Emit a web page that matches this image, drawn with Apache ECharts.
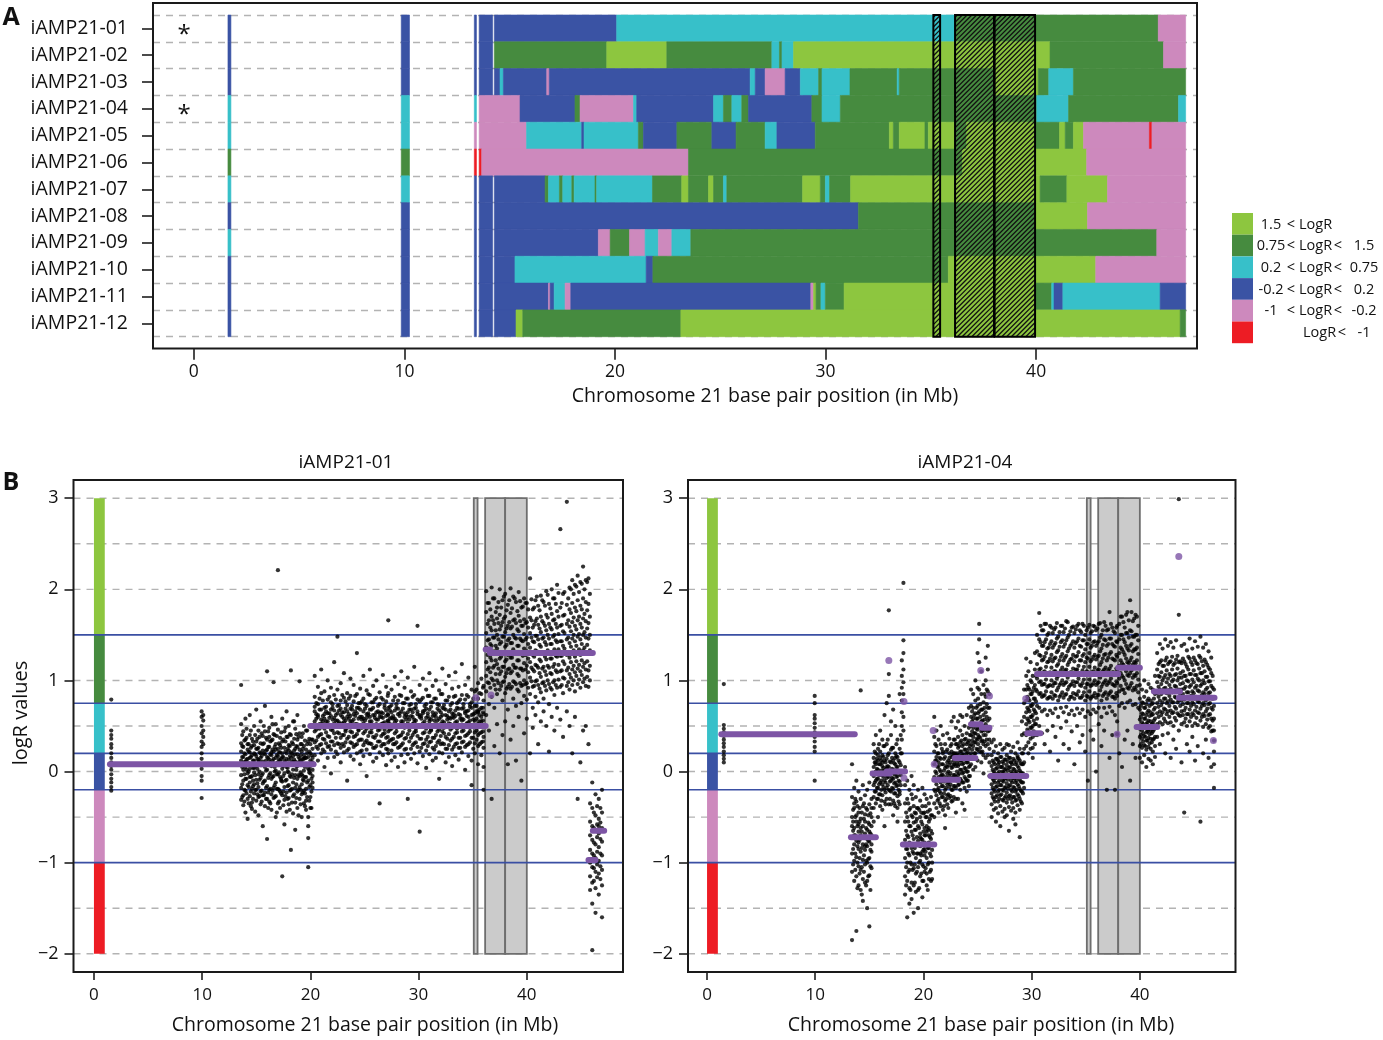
<!DOCTYPE html>
<html>
<head>
<meta charset="utf-8">
<title>iAMP21 - chromosome 21 copy number</title>
<script src="https://cdn.jsdelivr.net/npm/echarts@6.0.0/dist/echarts.min.js"></script>
<style>
  html, body { margin: 0; padding: 0; background: #fff; }
  #chart { width: 1383px; height: 1040px; }
</style>
</head>
<body>
<div id="chart"></div>
<script>
// ---- colours of the logR classes (light green, dark green, cyan, blue, pink, red)
var FONT = 'Open Sans';
var classColors = ['#8dc63f', '#468b3f', '#37c0c9', '#3a53a4', '#cd89bd', '#ed1c24'];
var purple = '#7d55a5';

// ---- panel A : segments per sample  [start Mb, end Mb, class]
var rowNames = ['iAMP21-01', 'iAMP21-02', 'iAMP21-03', 'iAMP21-04', 'iAMP21-05', 'iAMP21-06',
  'iAMP21-07', 'iAMP21-08', 'iAMP21-09', 'iAMP21-10', 'iAMP21-11', 'iAMP21-12'];
var seg01 = [[1.62,1.76,3],[9.85,10.24,3],[13.32,13.42,3],[13.55,14.19,3],[14.27,20.08,3],[20.08,36.15,2],[36.15,45.8,1],[45.8,47.1,4]];
var seg02 = [[1.62,1.76,3],[9.85,10.24,3],[13.32,13.42,3],[13.55,14.19,3],[14.27,19.61,1],[19.61,22.46,0],[22.46,27.45,1],[27.45,27.81,2],[27.81,27.93,1],[27.93,28.48,2],[28.48,40.66,0],[40.66,46.05,1],[46.05,47.1,4]];
var seg03 = [[1.62,1.76,3],[9.85,10.24,3],[13.32,13.42,3],[13.55,14.19,3],[14.27,14.54,3],[14.54,14.7,2],[14.7,16.76,3],[16.76,16.88,4],[16.88,26.42,3],[26.42,26.66,2],[26.66,27.13,3],[27.13,28.08,4],[28.08,28.8,3],[28.8,29.67,2],[29.67,29.83,1],[29.83,31.16,2],[31.16,33.4,1],[33.4,33.5,2],[33.5,38.0,1],[38.0,40.1,0],[40.1,40.6,1],[40.6,41.77,2],[41.77,47.1,1]];
var seg04 = [[1.62,1.76,2],[9.85,10.24,2],[13.32,13.42,2],[13.55,15.49,4],[15.49,18.1,3],[18.1,18.34,1],[18.34,20.88,4],[20.88,21.03,2],[21.03,24.68,3],[24.68,25.15,2],[25.15,25.55,1],[25.55,26.02,2],[26.02,26.34,1],[26.34,29.35,3],[29.35,29.83,1],[29.83,30.7,2],[30.7,40.03,1],[40.03,41.54,2],[41.54,46.76,1],[46.76,47.1,2]];
var seg05 = [[1.62,1.76,2],[9.85,10.24,2],[13.32,13.42,4],[13.55,15.8,4],[15.8,18.42,2],[18.42,18.53,3],[18.53,21.11,2],[21.11,21.35,1],[21.35,22.94,3],[22.94,24.6,1],[24.6,25.75,3],[25.75,27.13,1],[27.13,27.69,2],[27.69,29.51,3],[29.51,33.03,1],[33.03,33.22,0],[33.22,33.5,1],[33.5,34.72,0],[34.72,34.88,1],[34.88,36.15,0],[36.15,36.7,1],[36.7,39.95,0],[39.95,41.11,1],[41.11,41.38,0],[41.38,41.77,1],[41.77,42.25,0],[42.25,45.38,4],[45.38,45.5,5],[45.5,47.1,4]];
var seg06 = [[1.62,1.76,1],[9.85,10.24,1],[13.32,13.42,5],[13.55,13.67,5],[13.67,23.49,4],[23.49,36.5,1],[36.5,42.4,0],[42.4,47.1,4]];
var seg07 = [[1.62,1.76,2],[9.85,10.24,2],[13.32,13.42,3],[13.55,14.19,3],[14.27,16.68,3],[16.68,16.84,1],[16.84,17.36,2],[17.36,17.52,1],[17.52,17.95,2],[17.95,18.06,1],[18.06,19.05,2],[19.05,19.13,1],[19.13,21.78,2],[21.78,23.17,1],[23.17,23.49,0],[23.49,24.44,1],[24.44,24.68,0],[24.68,25.15,1],[25.15,25.31,2],[25.31,28.91,1],[28.91,29.75,0],[29.75,29.99,1],[29.99,30.19,2],[30.19,31.19,1],[31.19,40.19,0],[40.19,41.46,1],[41.46,43.39,0],[43.39,47.1,4]];
var seg08 = [[1.62,1.76,3],[9.85,10.24,3],[13.32,13.42,3],[13.55,14.19,3],[14.27,31.56,3],[31.56,39.95,1],[39.95,42.44,0],[42.44,47.1,4]];
var seg09 = [[1.62,1.76,2],[9.85,10.24,3],[13.32,13.42,3],[13.55,14.19,3],[14.27,19.21,3],[19.21,19.77,4],[19.77,20.69,1],[20.69,21.43,4],[21.43,22.06,2],[22.06,22.7,4],[22.7,23.6,2],[23.6,45.73,1],[45.73,47.1,4]];
var seg10 = [[1.62,1.76,3],[9.85,10.24,3],[13.32,13.42,3],[13.55,14.19,3],[14.27,15.25,3],[15.25,21.48,2],[21.48,21.8,3],[21.8,35.83,1],[35.83,42.83,0],[42.83,47.1,4]];
var seg11 = [[1.62,1.76,3],[9.85,10.24,3],[13.32,13.42,3],[13.55,14.19,3],[14.27,16.84,3],[16.84,16.92,4],[16.92,17.11,3],[17.11,17.63,2],[17.63,17.9,4],[17.9,29.3,3],[29.3,29.43,4],[29.43,29.55,0],[29.55,29.78,1],[29.78,29.99,2],[29.99,30.88,1],[30.88,39.95,0],[39.95,40.74,1],[40.74,40.85,2],[40.85,41.27,3],[41.27,45.89,2],[45.89,47.1,3]];
var seg12 = [[1.62,1.76,3],[9.85,10.24,3],[13.32,13.42,3],[13.55,14.19,3],[14.27,15.3,3],[15.3,15.62,0],[15.62,23.13,1],[23.13,46.84,0],[46.84,47.1,1]];
var rowSegs = [seg01, seg02, seg03, seg04, seg05, seg06, seg07, seg08, seg09, seg10, seg11, seg12];
var starredRows = [0, 3];

// hatched regions [start Mb, end Mb]
var hatchBoxes = [[35.12, 35.44], [36.15, 38.0], [38.03, 39.95]];

// ---- panel B : class thresholds, grey regions
var thresholds = [1.5, 0.75, 0.2, -0.2, -1];
var dashLevels = [-2, -1.5, -0.5, 0, 0.5, 1, 2, 2.5, 3];
var classBands = [[1.5, 3, 0], [0.75, 1.5, 1], [0.2, 0.75, 2], [-0.2, 0.2, 3], [-1, -0.2, 4], [-2, -1, 5]];
var greyBoxes = [[35.1, 35.45], [36.15, 38.0], [38.0, 40.0]];

// ---- iAMP21-01 probes: [position Mb, [logR values]]
var p01Left = [[1.6,[.79,.45,.4,.36,.3,.26,.2,.15,.1,.06,.02,-.03,-.08,-.12,-.17,-.21]],
  [9.95,[.66,.6,.5,.42,.33,.27,.2,.14,.08,.03,-.05,-.1,-.29]],[10.1,[.62,.56,.45,.38,.3]]];
var p01Cen = [[13.6,[.95,.52,.31,.12,-.04,-.18,-.31,.22]],[13.8,[.44,.27,.09,-.1,-.26,.16,-.37,.02]],
  [14.0,[.58,.35,.19,.05,-.08,-.21,-.45,.11]],[14.2,[.3,.14,-.02,-.15,-.3,.24,.07,-.52]],
  [14.4,[.62,.4,.21,.03,-.12,-.27,.15,-.06]],[14.6,[.36,.18,.08,-.05,-.19,-.34,.28,-.41]],
  [14.8,[.5,.29,.12,-.01,-.14,-.24,.2,.04]],[15.0,[.68,.33,.17,.06,-.09,-.2,-.32,.25]],
  [15.2,[.45,.26,.1,-.03,-.17,-.28,.13,-.48]],[15.4,[.55,.31,.2,.07,-.07,-.22,-.36,.15]],
  [15.6,[.39,.23,.11,-.02,-.13,-.26,.3,-.6]],[15.8,[.72,.44,.19,.05,-.1,-.23,.09,-.38]],
  [16.0,[1.1,.35,.16,.02,-.16,-.3,.24,-.74]],[16.2,[.48,.27,.13,-.04,-.2,-.33,.07,.38]],
  [16.4,[.6,.34,.18,.06,-.08,-.25,-.42,.21]],[16.6,[.98,.41,.22,.09,-.05,-.18,-.29,.14]],
  [16.8,[.52,.3,.15,.01,-.12,-.27,-.5,.24]],[17.0,[2.21,.46,.25,.1,-.03,-.19,-.35,.17]],
  [17.2,[.37,.21,.08,-.06,-.22,-.4,.29,.12]],[17.4,[.58,.33,.16,.03,-.11,-.26,-1.15,.2]],
  [17.6,[.44,.26,.12,-.02,-.17,-.31,-.58,.07]],[17.8,[.66,.38,.2,.05,-.09,-.23,-.44,.14]],
  [18.0,[.5,.29,.13,-.01,-.15,-.29,.23,-.36]],[18.2,[1.11,.4,.21,.08,-.06,-.2,-.86,.15]],
  [18.4,[.55,.3,.17,.02,-.12,-.27,-.46,.1]],[18.6,[.47,.25,.11,-.04,-.18,-.34,-.64,.19]],
  [18.8,[.62,.35,.19,.06,-.08,-.22,-.4,.27]],[19.0,[.99,.42,.24,.09,-.05,-.17,-.3,.14]],
  [19.2,[.38,.22,.1,-.03,-.14,-.25,.3,-.5]],[19.4,[.5,.28,.14,.01,-.1,-.21,-.35,.18]],
  [19.6,[.45,.24,.08,-.06,-.19,-.32,.15,-.42]],[19.8,[.33,.16,.03,-.1,-.5,-.6,-.73,-1.05]],
  [20.0,[.3,.12,-.02,-.15,-.28,.06,.2,-.4]],[20.2,[.25,.1,-.05,-.18,.02,-.12,.35,.15]]];
var p01Cen2 = [[13.7,[.28,.05,-.14,.4,-.28,.16]],[13.9,[.2,-.03,-.2,.34,.1,-.33]],[14.1,[.37,.13,-.08,-.24,.02,.47]],
  [14.3,[.22,0,-.17,.3,-.35,.09]],[14.5,[.45,.16,-.06,-.22,.26,-.38]],[14.7,[.12,-.1,-.3,.33,.04,-.16]],
  [14.9,[.4,.19,-.04,-.2,.08,-.44]],[15.1,[.25,.03,-.13,.36,-.25,.14]],[15.3,[.38,.11,-.09,-.27,.21,0]],
  [15.5,[.17,-.04,-.21,.42,-.33,.07]],[15.7,[.31,.09,-.11,-.26,.2,.5]],[15.9,[.23,.01,-.18,.37,-.3,.12]],
  [16.1,[.44,.15,-.07,-.23,.27,-.4]],[16.3,[.19,-.02,-.19,.33,-.35,.1]],[16.5,[.35,.12,-.06,-.21,.24,.52]],
  [16.7,[.27,.05,-.15,.4,-.28,0]],[16.9,[.39,.18,-.03,-.19,.09,-.45]],[17.1,[.21,-.01,-.2,.31,-.33,.13]],
  [17.3,[.43,.14,-.08,-.24,.26,-.1]],[17.5,[.16,-.05,-.22,.35,-.37,.06]],[17.7,[.33,.1,-.1,-.27,.22,.48]],
  [17.9,[.25,.04,-.16,.38,-.3,0]],[18.1,[.41,.17,-.05,-.21,.28,-.42]],[18.3,[.2,-.03,-.19,.32,-.34,.11]],
  [18.5,[.36,.13,-.07,-.25,.23,.55]],[18.7,[.28,.06,-.14,.41,-.29,.02]],[18.9,[.38,.16,-.04,-.2,.1,-.48]],
  [19.1,[.18,-.01,-.2,.3,-.36,.12]],[19.3,[.42,.14,-.09,-.23,.25,-.05]],[19.5,[.15,-.06,-.24,.34,-.38,.05]],
  [19.7,[.3,.08,-.12,-.28,.2,.45]],[19.9,[.22,.02,-.17,.36,-.32,-.01]],[20.1,[.35,.1,-.08,-.22,.18,-.4]]];
var p01Arm = [[20.4,[1.05,.82,.66,.55,.44,.32,.18,.71]],[20.7,[.93,.74,.6,.49,.38,.25,.62,.12]],
  [21.0,[1.12,.86,.68,.52,.41,.3,.57,.2]],[21.3,[.88,.7,.58,.47,.35,.22,.63,.05]],
  [21.6,[1.0,.79,.64,.5,.39,.27,.15,.55]],[21.9,[.92,.76,.61,.46,.33,.68,.24,-.02]],
  [22.2,[1.2,.84,.67,.53,.42,.29,.59,.16]],[22.5,[1.48,.9,.72,.56,.43,.31,.19,.64]],
  [22.8,[.97,.78,.62,.5,.37,.26,.1,.69]],[23.1,[1.08,.81,.65,.54,.4,.28,.58,.21]],
  [23.4,[.86,.73,.6,.48,.36,.23,.66,-.1]],[23.7,[1.02,.83,.69,.55,.44,.32,.17,.61]],
  [24.0,[.95,.77,.63,.51,.38,.27,.57,.13]],[24.3,[1.3,.85,.7,.52,.41,.3,.2,.64]],
  [24.6,[.91,.75,.6,.49,.35,.22,.68,.08]],[24.9,[1.05,.8,.66,.53,.42,.29,.58,.17]],
  [25.2,[.89,.72,.59,.47,.34,.24,.63,-.05]],[25.5,[1.12,.84,.68,.55,.43,.31,.19,.6]],
  [25.8,[.94,.76,.62,.5,.38,.26,.7,.11]],[26.1,[1.0,.81,.65,.52,.4,.28,.57,.15]],
  [26.4,[.87,.74,.6,.46,.33,.21,-.35,.64]],[26.7,[1.06,.79,.64,.53,.41,.3,.18,.59]],
  [27.0,[.93,.77,.61,.49,.37,.25,.67,.07]],[27.2,[1.66,.86,.7,.55,.44,.32,.2,.62]],
  [27.5,[.9,.73,.59,.47,.35,.23,.65,.12]],[27.8,[1.04,.82,.67,.54,.42,.3,.16,.58]],
  [28.1,[.96,.78,.63,.5,.38,.26,.69,.05]],[28.4,[1.1,.83,.66,.52,.4,.29,.55,.18]],
  [28.7,[.92,.75,.6,.48,.36,.24,.64,.1]],[29.0,[1.03,.8,.65,.53,.41,-.3,.19,.6]],
  [29.3,[.88,.74,.61,.49,.37,.25,.68,.14]],[29.6,[1.15,.84,.69,.54,.43,.31,.2,.57]],
  [29.9,[1.6,.79,.63,.51,.39,.27,.66,.09]],[30.1,[.95,.77,.62,.5,.36,-.66,.22,.6]],
  [30.4,[1.02,.81,.66,.53,.42,.3,.17,.64]],[30.7,[.9,.74,.59,.47,.35,.23,.69,.04]],
  [31.0,[1.08,.83,.68,.55,.43,.32,.19,.58]],[31.3,[.94,.76,.61,.49,.37,.26,.65,.12]],
  [31.6,[1.0,.8,.64,.52,.4,.28,.15,.6]],[31.9,[.89,.73,.58,.46,.34,.21,.67,-.08]],
  [32.2,[1.13,.85,.7,.55,.44,.31,.2,.62]],[32.5,[.96,.78,.62,.5,.38,.25,.68,.1]],
  [32.8,[1.05,.82,.66,.53,.41,.29,.16,.59]],[33.1,[.91,.75,.6,.48,.36,.24,.64,.06]],
  [33.4,[1.09,.83,.67,.54,.42,.3,.18,.61]],[33.7,[.93,.77,.63,.5,.37,.26,.69,.13]],
  [34.0,[1.18,.84,.69,.56,.44,.32,.21,.58]],[34.3,[.95,.79,.64,.51,.39,.27,.66,.02]],
  [34.6,[1.03,.82,.67,.54,.42,.3,.17,.6]],[34.9,[.9,.76,.62,.49,.37,-.15,.7,.12]],
  [35.2,[1.15,.88,.72,.56,.43,.31,.2,.64]],[35.5,[.97,.8,.65,.52,.4,.28,.66,.08]],
  [35.8,[1.02,.85,.7,.55,.43,.32,.18,.6]],[36.0,[.94,.78,.63,.5,.38,.26,.05,-.2]]];
var p01Arm2 = [[20.55,[.75,.58,.46,.34,.63,.27]],[20.85,[.68,.52,.4,.29,.8,.47]],[21.15,[.78,.61,.49,.36,.55,.24]],
  [21.45,[.71,.55,.43,.31,.66,.5]],[21.75,[.82,.64,.51,.38,.59,.28]],[22.05,[.7,.57,.45,.33,.74,.48]],
  [22.35,[.79,.62,.5,.37,.56,.22]],[22.65,[.73,.54,.42,.3,.67,.52]],[22.95,[.84,.65,.53,.4,.6,.3]],
  [23.25,[.69,.56,.44,.32,.77,.46]],[23.55,[.8,.63,.5,.38,.58,.25]],[23.85,[.72,.55,.43,.31,.68,.49]],
  [24.15,[.83,.66,.52,.39,.61,.29]],[24.45,[.7,.58,.46,.34,.75,.45]],[24.75,[.77,.6,.48,.35,.57,.23]],
  [25.05,[.74,.56,.44,.32,.69,.51]],[25.35,[.85,.64,.51,.39,.62,.31]],[25.65,[.68,.55,.43,.3,.76,.47]],
  [25.95,[.79,.62,.5,.37,.59,.26]],[26.25,[.72,.57,.45,.33,.66,.5]],[26.55,[.81,.65,.52,.39,.6,.28]],
  [26.85,[.7,.54,.42,.3,.73,.46]],[27.15,[.83,.63,.5,.38,.56,.24]],[27.35,[.71,.58,.46,.34,.67,.52]],
  [27.65,[.78,.61,.49,.36,.58,.3]],[27.95,[.74,.56,.44,.32,.7,.48]],[28.25,[.84,.64,.51,.39,.61,.27]],
  [28.55,[.69,.55,.43,.31,.75,.49]],[28.85,[.8,.62,.5,.37,.57,.25]],[29.15,[.73,.57,.45,.33,.68,.5]],
  [29.45,[.82,.65,.52,.4,.6,.29]],[29.75,[.7,.56,.44,.32,.74,.47]],[30.25,[.79,.61,.49,.36,.58,.26]],
  [30.55,[.72,.55,.43,.31,.67,.51]],[30.85,[.83,.64,.51,.38,.61,.28]],[31.15,[.71,.57,.45,.33,.76,.46]],
  [31.45,[.8,.62,.5,.37,.56,.24]],[31.75,[.74,.56,.44,.32,.69,.5]],[32.05,[.85,.65,.52,.39,.6,.3]],
  [32.35,[.69,.54,.42,.3,.73,.48]],[32.65,[.78,.61,.49,.36,.57,.25]],[32.95,[.73,.58,.46,.34,.68,.52]],
  [33.25,[.82,.63,.5,.38,.59,.27]],[33.55,[.7,.55,.43,.31,.75,.47]],[33.85,[.79,.62,.5,.37,.58,.26]],
  [34.15,[.74,.57,.45,.33,.7,.5]],[34.45,[.84,.66,.53,.4,.61,.29]],[34.75,[.71,.56,.44,.32,.74,.48]],
  [35.05,[.8,.63,.5,.37,.57,.25]],[35.35,[.9,.72,.58,.45,.66,.35]],[35.65,[.86,.68,.55,.42,.62,.3]],
  [35.95,[.92,.7,.56,.44,.65,.33]]];
var p01Amp = [[36.25,[1.98,1.75,1.52,1.36,1.2,1.05,.88,.62]],[36.5,[1.85,1.66,1.45,1.3,1.14,.97,.74,.45]],
  [36.75,[2.02,1.7,1.55,1.38,1.22,1.02,.82,-.3]],[37.0,[1.9,1.62,1.47,1.32,1.16,.95,.7,.28]],
  [37.25,[1.8,1.68,1.5,1.35,1.18,1.0,.85,.52]],[37.5,[2.0,1.72,1.56,1.4,1.24,1.07,.9,.2]],
  [37.75,[1.88,1.64,1.48,1.31,1.15,.98,.78,.4]],[38.0,[1.95,1.7,1.53,1.37,1.21,1.04,.86,.55]],
  [38.25,[1.83,1.6,1.44,1.28,1.12,.93,.68,.08]],[38.5,[2.01,1.74,1.57,1.41,1.25,1.08,.91,.35]],
  [38.75,[1.92,1.66,1.5,1.34,1.17,.99,.8,.5]],[39.0,[1.86,1.63,1.46,1.3,1.14,.96,.72,.12]],
  [39.25,[1.97,1.71,1.54,1.38,1.22,1.05,.88,.6]],[39.5,[1.8,1.6,1.44,1.29,1.13,.94,.75,-.1]],
  [39.75,[1.9,1.67,1.51,1.35,1.19,1.0,.83,.42]],[40.0,[1.85,1.64,1.47,1.32,1.16,.97,.79,.58]],
  [40.3,[2.12,1.69,1.52,1.36,1.2,1.03,.85,.2]],[40.55,[1.78,1.58,1.43,1.28,1.12,.93,.7,.48]],
  [40.8,[1.88,1.65,1.49,1.33,1.17,.99,.82,.62]],[41.05,[1.82,1.61,1.45,1.3,1.14,.95,.76,.3]],
  [41.3,[1.93,1.7,1.53,1.37,1.21,1.04,.87,.55]],[41.55,[1.86,1.63,1.47,1.31,1.15,.98,.8,.66]],
  [41.8,[1.98,1.72,1.55,1.39,1.23,1.06,.89,.5]],[42.05,[1.84,1.62,1.46,1.3,1.14,.96,.74,.22]],
  [42.3,[2.0,1.73,1.56,1.4,1.24,1.07,.9,.6]],[42.55,[1.9,1.67,1.5,1.34,1.18,1.0,.84,.45]],
  [42.8,[2.05,1.76,1.58,1.42,1.26,1.09,.92,.7]],[43.1,[2.66,1.8,1.6,1.43,1.27,1.1,.93,.57]],
  [43.35,[1.95,1.71,1.54,1.38,1.21,1.03,.86,.38]],[43.7,[2.96,1.83,1.62,1.45,1.28,1.11,.94,.66]],
  [43.95,[2.02,1.78,1.59,1.41,1.25,1.07,.9,.5]],[44.2,[2.1,1.85,1.64,1.46,1.3,1.12,.95,.2]],
  [44.45,[2.05,1.8,1.6,1.43,1.26,1.09,.88,.6]],[44.7,[2.15,1.88,1.66,1.48,1.31,1.13,.96,-.3]],
  [44.95,[2.08,1.82,1.62,1.45,1.28,1.1,.92,.1]],[45.2,[2.25,1.9,1.68,1.5,1.33,1.15,.98,.45]],
  [45.45,[2.1,1.86,1.65,1.47,1.3,1.12,.94,.5]],[45.7,[2.12,1.84,1.63,1.46,1.29,1.11,.93,.3]]];
var p01Amp2 = [[36.38,[1.62,1.44,1.28,1.12,.98,1.85]],[36.63,[1.58,1.4,1.25,1.09,.92,1.78]],[36.88,[1.66,1.47,1.3,1.14,1.0,1.9]],
  [37.13,[1.55,1.38,1.22,1.07,.9,1.75]],[37.38,[1.63,1.45,1.29,1.13,.97,1.86]],[37.63,[1.6,1.42,1.26,1.1,.94,1.8]],
  [37.88,[1.68,1.48,1.31,1.15,.99,1.92]],[38.13,[1.57,1.39,1.23,1.08,.91,1.77]],[38.38,[1.64,1.46,1.3,1.13,.96,1.88]],
  [38.63,[1.59,1.41,1.25,1.1,.93,1.79]],[38.88,[1.67,1.47,1.31,1.14,.98,1.9]],[39.13,[1.56,1.38,1.22,1.07,.9,1.76]],
  [39.38,[1.65,1.46,1.29,1.13,.97,1.87]],[39.63,[1.6,1.43,1.27,1.11,.95,1.81]],[39.88,[1.63,1.45,1.28,1.12,.96,1.85]],
  [40.13,[1.58,1.4,1.24,1.09,.92,1.78]],[40.43,[1.66,1.47,1.3,1.14,.99,1.89]],[40.68,[1.61,1.42,1.26,1.1,.94,1.8]],
  [40.93,[1.68,1.49,1.32,1.16,1.0,1.92]],[41.18,[1.57,1.39,1.23,1.08,.91,1.77]],[41.43,[1.65,1.46,1.29,1.13,.97,1.88]],
  [41.68,[1.6,1.42,1.26,1.1,.94,1.82]],[41.93,[1.69,1.5,1.33,1.16,1.0,1.94]],[42.18,[1.58,1.4,1.24,1.08,.92,1.79]],
  [42.43,[1.66,1.48,1.31,1.15,.98,1.9]],[42.68,[1.62,1.44,1.27,1.11,.95,1.84]],[42.93,[1.7,1.51,1.34,1.17,1.01,1.96]],
  [43.23,[1.61,1.43,1.27,1.11,.95,1.85]],[43.48,[1.72,1.52,1.35,1.18,1.02,1.97]],[43.83,[1.66,1.47,1.3,1.14,.98,1.9]],
  [44.08,[1.74,1.54,1.37,1.2,1.03,2.0]],[44.33,[1.69,1.5,1.33,1.16,1.0,1.95]],[44.58,[1.76,1.56,1.38,1.21,1.05,2.03]],
  [44.83,[1.7,1.51,1.34,1.17,1.01,1.97]],[45.08,[1.78,1.58,1.4,1.22,1.06,2.06]],[45.33,[1.73,1.53,1.36,1.19,1.02,2.0]],
  [45.58,[1.77,1.57,1.39,1.21,1.04,2.08]],[45.83,[1.7,1.5,1.33,1.16,1.0,1.95]]];
var p01Tel = [[45.85,[-.35,-.55,-.7,-.86,-1.0,-1.15,-1.3]],[46.05,[-1.96,-.12,-.4,-.6,-.75,-.9,-1.05,-1.22,-1.45]],
  [46.2,[-.45,-.62,-.78,-.92,-1.06,-1.2]],
  [46.35,[-.25,-.48,-.65,-.8,-.95,-1.1,-1.28,-1.55]],[46.5,[-.38,-.58,-.72,-.88,-1.02,-1.16]],
  [46.65,[-.3,-.52,-.68,-.83,-.98,-1.12,-1.35,-.6]],[46.8,[-.4,-.56,-.74,-.9,-1.04,-1.18]],
  [46.95,[-.45,-.62,-.77,-.92,-1.08,-1.25,-1.6,-.2]]];
// segment means [start, end, logR] and single-probe means [pos, logR]
var seg01Means = [[1.48,20.3,.08],[20.0,36.2,.5],[36.2,36.6,1.34],[36.6,46.1,1.3],[45.7,46.35,-.97],[46.1,47.15,-.65]];
var dot01Means = [[35.3,.81],[36.7,.84]];

// ---- iAMP21-04 probes
var p04Left = [[1.55,[.96,.51,.47,.43,.39,.35,.31,.27,.22,.18,.14,.1]],
  [9.95,[.83,.75,.62,.58,.53,.48,.43,.38,.33,.27,.22,-.1]]];
var p04Prox = [[13.4,[.08,-.28,-.5,-.72,-.9,-1.1,-1.85,-.6]],[13.6,[-.18,-.4,-.62,-.8,-.98,-1.2,-.35,-.7]],
  [13.8,[-.1,-.33,-.55,-.76,-.94,-1.15,-1.75,-.48]],[14.0,[-.22,-.45,-.66,-.85,-1.04,-1.25,-.58,-.78]],
  [14.2,[.89,-.3,-.52,-.7,-.88,-1.08,-1.3,-.62]],[14.4,[-.15,-.38,-.6,-.8,-.97,-1.18,-1.42,-.72]],
  [14.6,[-.26,-.47,-.68,-.86,-1.02,-1.22,-.55,-.82]],[14.8,[-.2,-.42,-.64,-.82,-1.0,-1.2,-1.5,-.74]],
  [15.0,[-.12,-.36,-.58,-.77,-.95,-1.14,-1.7,-.66]],[15.2,[-.3,-.5,-.7,-.88,-1.06,-.6,-.8,-.4]],
  [15.4,[.3,.15,.05,-.05,-.15,-.28,-.4,-.55]],[15.6,[.4,.2,.1,0,-.1,-.22,-.35,.08]],
  [15.8,[.25,.12,.02,-.08,-.18,-.3,-.5,.18]],[16.0,[.45,.22,.08,-.03,-.12,-.25,-.38,.15]],
  [16.2,[.35,.18,.06,-.04,-.14,-.26,-.42,.1]],[16.4,[.62,.28,.12,.01,-.1,-.2,-.33,-.6]],
  [16.6,[.75,.3,.14,.03,-.07,-.18,-.3,.05]],[16.8,[1.77,1.07,.83,.2,.05,-.06,-.2,-.36]],
  [17.0,[.55,.24,.1,0,-.1,-.22,-.36,.4]],[17.2,[.68,.26,.12,.02,-.08,-.19,-.32,-.48]],
  [17.4,[.5,.2,.08,-.02,-.12,-.24,-.38,.15]],[17.6,[.35,.16,.05,-.05,-.15,-.27,-.4,-.55]],
  [17.8,[.85,.25,.1,-.01,-.11,-.22,-.36,-.25]],[18.0,[1.22,1.05,.92,.78,.65,.5,.35,.2]],
  [18.15,[2.07,1.44,1.3,1.12,.98,.85,.6,.45]],
  [18.3,[.05,-.15,-.35,-.55,-.75,-.95,-1.15,-1.35]],[18.5,[-.1,-.3,-.5,-.7,-.85,-1.0,-1.2,-1.6]],
  [18.7,[-.2,-.42,-.6,-.78,-.92,-1.08,-1.28,-1.45]],[18.9,[-.05,-.25,-.48,-.66,-.84,-1.02,-1.22,-1.4]],
  [19.1,[-.15,-.38,-.56,-.74,-.9,-1.06,-1.25,-1.55]],[19.3,[-.28,-.46,-.64,-.8,-.95,-1.12,-1.32,-.55]],
  [19.5,[-.2,-.4,-.6,-.76,-.9,-1.05,-1.3,-1.5]],[19.7,[-.32,-.5,-.68,-.82,-.98,-1.15,-.72,-.9]],
  [19.9,[-.18,-.38,-.58,-.75,-.88,-1.02,-1.2,-1.38]],[20.1,[-.25,-.45,-.62,-.78,-.92,-1.1,-.7,-.85]],
  [20.3,[-.3,-.5,-.66,-.8,-.95,-1.12,-1.25,-.6]],[20.5,[-.35,-.55,-.7,-.84,-1.0,-1.18,-.62,-.78]],
  [20.7,[-.28,-.48,-.65,-.8,-.93,-1.08,-.74,-1.2]]];
var p04Prox2 = [[13.5,[-.42,-.65,-.85,-1.02,-.55]],[13.7,[-.5,-.7,-.9,-1.08,-.3]],[13.9,[-.38,-.6,-.82,-1.0,-1.28]],
  [14.1,[-.55,-.75,-.95,-1.12,-.4]],[14.3,[-.45,-.66,-.84,-1.05,-1.35]],[14.5,[-.52,-.72,-.92,-1.1,-.35]],
  [14.7,[-.4,-.62,-.8,-.98,-1.25]],[14.9,[-.56,-.76,-.96,-1.15,-.48]],[15.1,[-.46,-.68,-.86,-1.04,-1.3]],
  [15.5,[.1,-.02,-.12,-.22,.22]],[15.7,[.14,.03,-.08,-.18,-.3]],[15.9,[.08,-.04,-.14,-.25,.3]],
  [16.1,[.12,.01,-.1,-.2,-.32]],[16.3,[.16,.04,-.06,-.17,.28]],[16.5,[.1,-.01,-.12,-.23,-.36]],
  [16.7,[.18,.06,-.05,-.15,.35]],[16.9,[.11,0,-.11,-.21,-.3]],[17.1,[.15,.03,-.07,-.18,.26]],
  [17.3,[.09,-.03,-.13,-.24,-.35]],[17.5,[.17,.05,-.06,-.16,.3]],[17.7,[.12,0,-.1,-.2,-.33]],
  [17.9,[.2,.07,-.04,-.15,.4]],[18.4,[-.45,-.65,-.85,-1.05,-1.25]],[18.6,[-.55,-.72,-.9,-1.1,-.35]],
  [18.8,[-.4,-.6,-.8,-1.0,-1.3]],[19.0,[-.5,-.7,-.88,-1.08,-.3]],[19.2,[-.45,-.64,-.84,-1.02,-1.22]],
  [19.4,[-.52,-.72,-.9,-1.1,-.4]],[19.6,[-.42,-.62,-.8,-1.0,-1.28]],[19.8,[-.55,-.74,-.92,-1.12,-.45]],
  [20.0,[-.46,-.66,-.86,-1.04,-1.2]],[20.2,[-.5,-.7,-.88,-1.06,-.38]],[20.4,[-.44,-.64,-.84,-1.02,-1.3]],
  [20.6,[-.52,-.72,-.9,-1.1,-.42]],[20.8,[-.48,-.68,-.86,-1.0,-1.18]]];
var p04Mid = [[21.0,[.6,.38,.22,.08,-.06,-.2,-.35,-.5]],[21.2,[.45,.28,.12,-.02,-.14,-.26,-.4,.16]],
  [21.4,[.35,.2,.06,-.06,-.18,-.3,-.45,.1]],[21.6,[.5,.3,.14,0,-.12,-.24,-.38,-.05]],
  [21.8,[.4,.22,.08,-.04,-.16,-.28,-.42,.2]],[22.0,[.3,.16,.04,-.08,-.2,-.32,-.48,-.62]],
  [22.2,[.42,.24,.1,-.02,-.14,-.26,-.36,.05]],[22.4,[.36,.2,.07,-.05,-.17,-.29,.15,-.1]],
  [22.6,[.55,.3,.16,.04,-.08,-.2,-.33,.22]],[22.8,[.6,.35,.2,.08,-.04,-.16,-.28,.12]],
  [23.0,[.48,.3,.18,.06,-.06,-.18,-.3,-.45]],[23.2,[.55,.38,.26,.16,.06,-.04,-.15,-.3]],
  [23.4,[.45,.32,.22,.12,.02,-.08,-.2,.62]],[23.6,[.6,.4,.28,.18,.08,-.02,-.12,-.35]],
  [23.8,[.5,.35,.24,.14,.04,-.06,-.18,-.42]],[24.0,[.62,.42,.3,.2,.1,0,-.1,-.22]],
  [24.2,[.48,.34,.25,.15,.05,-.05,-.16,.7]],[24.4,[.9,.72,.6,.5,.4,.3,.2,.08]],
  [24.6,[.85,.7,.58,.48,.38,.28,.16,.02]],[24.8,[1.0,.78,.64,.52,.42,.32,.2,.05]],
  [25.0,[1.3,.92,.72,.58,.46,.35,.24,.12]],[25.15,[1.62,1.45,1.2,.9,.66,.5,.38,.22]],
  [25.35,[1.1,.85,.68,.55,.44,.33,.21,.1]],[25.55,[.95,.76,.62,.5,.4,.3,.18,-.02]],
  [25.75,[1.25,1.0,.82,.65,.52,.4,.28,.15]],[25.95,[1.38,1.12,.88,.7,.56,.44,.3,.18]],
  [26.1,[.85,.7,.58,.45,.35,.25,.1,-.05]],
  [26.3,[.32,.18,.06,-.04,-.14,-.24,-.36,-.5]],[26.5,[.22,.1,0,-.1,-.2,-.3,-.42,.35]],
  [26.7,[.28,.14,.03,-.07,-.17,-.28,-.4,-.55]],[26.9,[.2,.08,-.02,-.12,-.22,-.33,-.46,.12]],
  [27.1,[.3,.16,.05,-.05,-.15,-.26,-.38,-.6]],[27.3,[.24,.11,0,-.1,-.2,-.31,-.44,.05]],
  [27.5,[.26,.13,.02,-.08,-.18,-.29,-.41,-.5]],[27.7,[.18,.07,-.03,-.13,-.23,-.34,-.48,.3]],
  [27.9,[.29,.15,.04,-.06,-.16,-.27,-.39,-.65]],[28.1,[.22,.1,0,-.1,-.2,-.3,-.43,.1]],
  [28.3,[.27,.14,.03,-.07,-.17,-.28,-.4,-.52]],[28.5,[.2,.08,-.02,-.12,-.22,-.32,-.45,-.58]],
  [28.7,[.32,.17,.06,-.04,-.14,-.25,-.37,.15]],[28.9,[.25,.12,.01,-.09,-.19,-.3,-.42,-.72]],
  [29.1,[.4,.2,.08,-.02,-.12,-.22,-.35,.55]],[29.3,[.6,.42,.25,.1,-.05,-.18,.75,.9]],
  [29.5,[1.24,1.05,.9,.78,.65,.52,.4,.28]],[29.7,[1.1,.92,.8,.68,.56,.44,.32,.2]],
  [29.9,[1.2,1.0,.85,.72,.6,.48,.36,.25]],[30.1,[1.05,.88,.74,.62,.5,.38,.26,.15]],
  [30.3,[1.3,1.12,.95,.8,.66,.52,.4,.3]],[30.5,[1.5,1.32,1.18,1.02,.88,.72,.58,.4]]];
var p04Mid2 = [[21.1,[.12,0,-.1,-.22,.3]],[21.3,[.05,-.08,-.2,-.32,.2]],[21.5,[.15,.02,-.1,-.22,-.35]],
  [21.7,[.08,-.04,-.16,-.28,.25]],[21.9,[.14,.01,-.11,-.24,-.38]],[22.1,[.06,-.06,-.18,-.3,.22]],
  [22.3,[.12,0,-.12,-.25,-.4]],[22.5,[.1,-.02,-.14,-.27,.28]],[22.7,[.18,.05,-.07,-.2,-.32]],
  [22.9,[.2,.08,-.04,-.16,.35]],[23.1,[.3,.2,.1,0,-.1]],[23.3,[.28,.18,.08,-.02,-.14]],
  [23.5,[.34,.22,.12,.02,-.1]],[23.7,[.3,.19,.09,-.01,-.12]],[23.9,[.36,.24,.13,.03,-.08]],
  [24.1,[.32,.21,.1,0,-.1]],[24.3,[.4,.28,.17,.06,-.05]],[24.5,[.66,.55,.44,.34,.24]],
  [24.7,[.62,.52,.42,.32,.2]],[24.9,[.7,.58,.47,.36,.25]],[25.05,[.8,.64,.52,.4,.3]],
  [25.25,[.74,.6,.48,.37,.26]],[25.45,[.68,.56,.45,.34,.22]],[25.65,[.85,.7,.57,.45,.33]],
  [25.85,[.9,.74,.6,.47,.35]],[26.4,[.12,.02,-.08,-.18,-.28]],[26.6,[.08,-.02,-.12,-.22,-.33]],
  [26.8,[.14,.04,-.06,-.16,-.26]],[27.0,[.1,0,-.1,-.2,-.3]],[27.2,[.16,.05,-.05,-.15,-.25]],
  [27.4,[.09,-.01,-.11,-.21,-.32]],[27.6,[.13,.03,-.07,-.17,-.27]],[27.8,[.11,.01,-.09,-.19,-.3]],
  [28.0,[.15,.05,-.05,-.15,-.26]],[28.2,[.08,-.02,-.12,-.22,-.34]],[28.4,[.12,.02,-.08,-.18,-.28]],
  [28.6,[.1,0,-.1,-.2,-.31]],[28.8,[.14,.04,-.06,-.16,-.27]],[29.0,[.09,-.01,-.11,-.21,-.33]],
  [29.2,[.2,.08,-.02,-.12,-.24]],[29.6,[.95,.82,.7,.58,.46]],[29.8,[.9,.78,.66,.54,.42]],
  [30.0,[.98,.85,.72,.6,.48]],[30.2,[.92,.8,.68,.56,.44]],[30.4,[1.05,.9,.77,.64,.52]]];
var p04Amp = [[30.7,[1.74,1.45,1.28,1.12,.98,.85,.7,.5]],[30.95,[1.55,1.38,1.22,1.08,.95,.82,.66,.42]],
  [31.2,[1.62,1.42,1.26,1.1,.96,.84,.68,.3]],[31.45,[1.5,1.35,1.2,1.06,.93,.8,.62,.45]],
  [31.7,[1.6,1.4,1.24,1.09,.95,.82,.67,.22]],[31.95,[1.52,1.36,1.21,1.07,.94,.8,.64,.5]],
  [32.2,[1.58,1.41,1.25,1.1,.97,.83,.69,.38]],[32.45,[1.48,1.33,1.18,1.05,.92,.78,.6,.12]],
  [32.7,[1.6,1.42,1.26,1.11,.97,.84,.7,.48]],[32.95,[1.53,1.37,1.22,1.08,.95,.81,.65,.3]],
  [33.2,[1.65,1.44,1.27,1.12,.98,.85,.71,.55]],[33.45,[1.5,1.35,1.2,1.06,.93,.79,.63,.25]],
  [33.7,[1.58,1.4,1.24,1.09,.96,.82,.67,.44]],[33.95,[1.52,1.36,1.21,1.07,.94,.8,.62,.08]],
  [34.2,[1.6,1.43,1.27,1.12,.98,.84,.69,.5]],[34.45,[1.55,1.38,1.22,1.08,.95,.81,.64,.32]],
  [34.7,[1.62,1.44,1.27,1.11,.97,.83,.68,.4]],[34.95,[1.5,1.34,1.2,1.06,.92,.78,.6,.22]],
  [35.2,[1.58,1.4,1.24,1.09,.96,.82,.66,-.1]],[35.45,[1.52,1.36,1.21,1.07,.94,.8,.63,.45]],
  [35.7,[1.6,1.42,1.26,1.1,.97,.83,.68,.35]],[35.95,[1.55,1.38,1.23,1.08,.95,.81,.65,0]],
  [36.2,[1.62,1.43,1.27,1.12,.98,.84,.7,.52]],[36.45,[1.5,1.35,1.2,1.06,.93,.78,.6,.28]],
  [36.7,[1.64,1.45,1.28,1.12,.98,.85,.7,.45]],[36.95,[1.55,1.38,1.22,1.08,.95,.8,.64,-.2]],
  [37.2,[1.75,1.46,1.29,1.13,.99,.86,.71,.15]],[37.45,[1.58,1.4,1.24,1.09,.96,.82,.66,.4]],
  [37.7,[1.52,1.37,1.22,1.07,.94,.8,.62,-.2]],[37.9,[1.6,1.42,1.26,1.1,.97,.83,.55,.41]],
  [38.1,[1.62,1.45,1.3,1.16,1.02,.88,.72,.2]],[38.35,[1.7,1.5,1.34,1.19,1.05,.9,.75,.05]],
  [38.6,[1.58,1.42,1.28,1.14,1.0,.86,.7,.35]],[38.85,[1.75,1.52,1.35,1.2,1.06,.92,.76,.45]],
  [39.1,[1.88,1.55,1.38,1.22,1.08,.94,.78,-.1]],[39.35,[1.65,1.48,1.32,1.17,1.03,.89,.73,.3]],
  [39.6,[1.72,1.5,1.34,1.19,1.05,.9,.74,.15]],[39.85,[1.6,1.44,1.29,1.15,1.01,.87,.7,.5]]];
var p04Amp2 = [[30.83,[1.42,1.27,1.13,.99,.86,1.6]],[31.08,[1.38,1.23,1.09,.96,.83,1.55]],[31.33,[1.45,1.3,1.15,1.01,.88,1.62]],
  [31.58,[1.36,1.21,1.07,.94,.81,1.52]],[31.83,[1.43,1.28,1.14,1.0,.87,1.58]],[32.08,[1.39,1.24,1.1,.97,.84,1.56]],
  [32.33,[1.46,1.31,1.16,1.02,.89,1.63]],[32.58,[1.37,1.22,1.08,.95,.82,1.53]],[32.83,[1.44,1.29,1.14,1.0,.87,1.6]],
  [33.08,[1.4,1.25,1.11,.97,.84,1.57]],[33.33,[1.47,1.32,1.17,1.03,.9,1.64]],[33.58,[1.38,1.23,1.09,.95,.82,1.54]],
  [33.83,[1.43,1.28,1.13,.99,.86,1.59]],[34.08,[1.41,1.26,1.12,.98,.85,1.56]],[34.33,[1.46,1.31,1.16,1.02,.88,1.62]],
  [34.58,[1.37,1.22,1.08,.94,.81,1.53]],[34.83,[1.44,1.29,1.15,1.01,.87,1.6]],[35.08,[1.4,1.25,1.1,.96,.83,1.55]],
  [35.33,[1.45,1.3,1.15,1.01,.88,1.61]],[35.58,[1.38,1.23,1.09,.95,.82,1.54]],[35.83,[1.43,1.28,1.14,1.0,.86,1.59]],
  [36.08,[1.41,1.26,1.11,.97,.84,1.57]],[36.33,[1.47,1.32,1.17,1.03,.89,1.63]],[36.58,[1.39,1.24,1.1,.96,.83,1.55]],
  [36.83,[1.44,1.29,1.14,1.0,.87,1.6]],[37.08,[1.4,1.25,1.11,.97,.84,1.56]],[37.33,[1.46,1.31,1.16,1.02,.88,1.62]],
  [37.58,[1.38,1.23,1.09,.95,.82,1.54]],[37.83,[1.43,1.28,1.13,.99,.86,1.58]],[38.23,[1.5,1.36,1.22,1.08,.94,1.7]],
  [38.48,[1.45,1.31,1.17,1.03,.9,1.64]],[38.73,[1.52,1.38,1.24,1.1,.96,1.72]],[38.98,[1.47,1.33,1.19,1.05,.91,1.66]],
  [39.23,[1.54,1.4,1.25,1.11,.97,1.75]],[39.48,[1.48,1.34,1.2,1.06,.92,1.68]],[39.73,[1.5,1.36,1.22,1.08,.94,1.7]]];
var p04Dist = [[40.0,[.95,.8,.68,.57,.47,.38,.28,.15]],[40.2,[.9,.76,.64,.54,.45,.36,.26,.1]],
  [40.4,[1.0,.82,.7,.58,.48,.39,.29,.18]],[40.6,[.88,.74,.62,.52,.43,.34,.24,.05]],
  [40.8,[.96,.8,.67,.56,.46,.37,.27,.14]],[41.0,[.92,.78,.65,.55,.45,.36,.25,.12]],
  [41.2,[.9,.75,.63,.53,.44,.35,.22,.08]],[41.4,[1.05,.85,.7,.58,.48,.38,.28,.16]],
  [41.6,[1.3,1.12,.98,.86,.75,.64,.52,.38]],[41.85,[1.4,1.2,1.04,.9,.78,.66,.54,.3]],
  [42.1,[1.35,1.16,1.0,.88,.76,.65,.52,.4]],[42.35,[1.45,1.22,1.06,.92,.8,.68,.55,.2]],
  [42.6,[1.38,1.18,1.02,.89,.77,.66,.53,.42]],[42.85,[1.42,1.21,1.05,.91,.79,.67,.54,.15]],
  [43.1,[1.36,1.17,1.01,.88,.76,.65,.5,.35]],[43.35,[1.44,1.23,1.07,.93,.81,.69,.56,.25]],
  [43.6,[2.99,1.72,1.2,1.03,.9,.78,.62,.45]],[43.85,[1.38,1.19,1.03,.9,.78,.66,.52,.1]],
  [44.1,[1.4,1.21,1.05,.91,.79,.67,.54,-.45]],[44.35,[1.33,1.15,1.0,.87,.75,.63,.5,.3]],
  [44.6,[1.46,1.24,1.07,.93,.8,.68,.55,.22]],[44.85,[1.35,1.17,1.01,.88,.76,.64,.5,.38]],
  [45.1,[1.43,1.22,1.06,.92,.8,.67,.53,.12]],[45.35,[1.37,1.18,1.02,.89,.77,.65,.51,.28]],
  [45.6,[1.48,1.25,1.08,.94,.81,.69,.56,-.55]],[45.85,[1.36,1.16,1.0,.87,.75,.63,.49,.2]],
  [46.1,[1.4,1.2,1.04,.9,.78,.66,.52,.35]],[46.35,[1.32,1.14,.99,.86,.74,.62,.48,.15]],
  [46.6,[1.25,1.08,.94,.82,.7,.58,.44,.05]],[46.85,[.9,.72,.58,.45,.34,.22,.08,-.18]]];
var p04Dist2 = [[40.1,[.72,.6,.5,.4,.3]],[40.3,[.75,.63,.52,.42,.33]],[40.5,[.7,.58,.48,.38,.28]],
  [40.7,[.78,.65,.54,.44,.34]],[40.9,[.72,.61,.5,.41,.31]],[41.1,[.74,.62,.52,.42,.32]],[41.3,[.8,.68,.56,.46,.36]],
  [41.73,[1.18,1.05,.93,.82,.71,.6]],[41.98,[1.22,1.09,.96,.85,.73,.62]],[42.23,[1.16,1.03,.91,.8,.69,.58]],
  [42.48,[1.25,1.11,.98,.86,.75,.63]],[42.73,[1.2,1.07,.95,.83,.72,.6]],[42.98,[1.26,1.12,.99,.87,.76,.64]],
  [43.23,[1.19,1.06,.94,.82,.71,.59]],[43.48,[1.27,1.13,1.0,.88,.76,.64]],[43.73,[1.21,1.08,.96,.84,.72,.61]],
  [43.98,[1.24,1.1,.97,.85,.74,.62]],[44.23,[1.18,1.05,.93,.81,.7,.58]],[44.48,[1.26,1.12,.99,.87,.75,.63]],
  [44.73,[1.2,1.07,.95,.83,.72,.6]],[44.98,[1.25,1.11,.98,.86,.74,.62]],[45.23,[1.19,1.06,.94,.82,.71,.59]],
  [45.48,[1.27,1.13,1.0,.88,.76,.64]],[45.73,[1.21,1.08,.96,.84,.72,.6]],[45.98,[1.23,1.1,.97,.85,.73,.61]],
  [46.23,[1.17,1.04,.92,.8,.69,.57]],[46.48,[1.12,.99,.87,.75,.63,.5]],[46.73,[1.05,.92,.8,.68,.56,.45]]];
var seg04Means = [[1.32,13.65,.41],[13.3,15.6,-.72],[15.3,16.9,-.02],[16.6,18.3,0],[18.1,21.0,-.8],
  [21.0,23.2,-.09],[22.9,24.8,.15],[24.4,25.3,.52],[25.4,26.1,.48],[26.2,29.5,-.05],[29.6,30.8,.42],
  [30.5,38.0,1.07],[38.0,40.0,1.14],[39.7,41.6,.49],[41.3,43.7,.88],[43.6,46.9,.81]];
var dot04Means = [[16.8,1.22],[18.2,.77],[18.2,-.07],[20.9,.45],[21.0,.08],[25.3,1.11],[26.1,.83],
  [29.45,.8],[37.9,.41],[43.6,2.36],[46.8,.34]];

// ---------------------------------------------------------------
function flat(groups) {
  var out = [];
  groups.forEach(function (g) {
    g.forEach(function (col) {
      col[1].forEach(function (y) { out.push([col[0], y]); });
    });
  });
  return out;
}

var segData = [];
rowSegs.forEach(function (r, i) {
  r.forEach(function (s) { segData.push([s[0], s[1], i, s[2]]); });
});

function renderSeg(params, api) {
  var s = api.coord([api.value(0), api.value(2)]);
  var e = api.coord([api.value(1), api.value(2)]);
  var h = api.size([0, 1])[1];
  var c = classColors[api.value(3)];
  return {
    type: 'rect',
    shape: { x: s[0], y: s[1] - h / 2, width: Math.max(e[0] - s[0], 1), height: h },
    style: { fill: c, stroke: c, lineWidth: 0.6 }
  };
}

function renderHatch(params, api) {
  var h = api.size([0, 1])[1];
  var x0 = api.coord([api.value(0), 0])[0];
  var x1 = api.coord([api.value(1), 0])[0];
  var y0 = api.coord([0, 0])[1] - h / 2;
  var y1 = api.coord([0, 11])[1] + h / 2;
  var kids = [];
  var step = 4.8;
  // diagonal lines x + y = c, clipped to the box
  for (var c = x0 + y0 + step / 2; c < x1 + y1; c += step) {
    var xa = Math.max(x0, c - y1), xb = Math.min(x1, c - y0);
    if (xb > xa) {
      kids.push({ type: 'line', shape: { x1: xa, y1: c - xa, x2: xb, y2: c - xb },
        style: { stroke: '#111', lineWidth: 1.3 } });
    }
  }
  kids.push({ type: 'rect', shape: { x: x0, y: y0, width: x1 - x0, height: y1 - y0 },
    style: { fill: 'none', stroke: '#000', lineWidth: 2 } });
  return { type: 'group', children: kids };
}

function hLine(style) {
  return function (params, api) {
    var cs = params.coordSys;
    var y = api.coord([0, api.value(0)])[1];
    return { type: 'line', shape: { x1: cs.x, y1: y, x2: cs.x + cs.width, y2: y }, style: style };
  };
}

function renderBand(params, api) {
  var a = api.coord([0, api.value(1)]);
  var b = api.coord([1, api.value(0)]);
  return { type: 'rect', shape: { x: a[0], y: a[1], width: b[0] - a[0], height: b[1] - a[1] },
    style: { fill: classColors[api.value(2)] } };
}

function renderGrey(params, api) {
  var a = api.coord([api.value(0), 3]);
  var b = api.coord([api.value(1), -2]);
  return { type: 'rect', shape: { x: a[0], y: a[1], width: b[0] - a[0], height: b[1] - a[1] },
    style: { fill: '#cbcbcb', stroke: '#6e6e6e', lineWidth: 1.8 } };
}

function renderMean(params, api) {
  var a = api.coord([api.value(0), api.value(2)]);
  var b = api.coord([api.value(1), api.value(2)]);
  return { type: 'line', shape: { x1: a[0], y1: a[1], x2: b[0], y2: b[1] },
    style: { stroke: purple, lineWidth: 6, lineCap: 'round' } };
}

function minus(v) { return v < 0 ? '\u2212' + Math.abs(v) : String(v); }

var mbTicks = [0, 10, 20, 30, 40];
var logTicks = [-2, -1, 0, 1, 2, 3];

function bx(i, min, max) {
  return {
    gridIndex: i, type: 'value', min: min, max: max,
    axisLine: { show: false, onZero: false },
    axisTick: { show: true, length: 8, customValues: mbTicks, lineStyle: { color: '#111', width: 1.5 } },
    axisLabel: { customValues: mbTicks, fontSize: 17, fontFamily: FONT, color: '#111', margin: 15 },
    splitLine: { show: false }
  };
}
function by(i) {
  return {
    gridIndex: i, type: 'value', min: -2.2, max: 3.2,
    axisLine: { show: false, onZero: false },
    axisTick: { show: true, length: 9, customValues: logTicks, lineStyle: { color: '#111', width: 1.5 } },
    axisLabel: { customValues: logTicks, formatter: minus, fontSize: 18, fontFamily: FONT, color: '#111', margin: 15 },
    splitLine: { show: false }
  };
}

function panelSeries(i, groups, means, dots) {
  return [
    { type: 'custom', xAxisIndex: i, yAxisIndex: i, z: 1, silent: true, encode: { y: 0 },
      renderItem: hLine({ stroke: '#b3b3b3', lineWidth: 1.4, lineDash: [7, 6] }),
      data: dashLevels.map(function (v) { return [v]; }) },
    { type: 'custom', xAxisIndex: i, yAxisIndex: i, z: 2, silent: true, encode: { y: [0, 1] },
      renderItem: renderBand, data: classBands },
    { type: 'custom', xAxisIndex: i, yAxisIndex: i, z: 2, silent: true, encode: { x: [0, 1] },
      renderItem: renderGrey, data: greyBoxes },
    { type: 'custom', xAxisIndex: i, yAxisIndex: i, z: 3, silent: true, encode: { y: 0 },
      renderItem: hLine({ stroke: '#3a4fa3', lineWidth: 1.6 }),
      data: thresholds.map(function (v) { return [v]; }) },
    { type: 'scatter', xAxisIndex: i, yAxisIndex: i, z: 4, silent: true, symbolSize: 4.2,
      itemStyle: { color: '#000' }, data: flat(groups) },
    { type: 'custom', xAxisIndex: i, yAxisIndex: i, z: 5, silent: true, encode: { x: [0, 1], y: 2 },
      renderItem: renderMean, data: means },
    { type: 'scatter', xAxisIndex: i, yAxisIndex: i, z: 5, silent: true, symbolSize: 7,
      itemStyle: { color: purple }, data: dots }
  ];
}

// ---- static text, frames and legend
function txt(x, y, s, size, opts) {
  opts = opts || {};
  return {
    type: 'text', x: x, y: y, z: 100, rotation: opts.rotation || 0, silent: true,
    style: { text: s, fontSize: size, fontFamily: FONT, fontWeight: opts.weight || 'normal',
      fill: '#111', align: opts.align || 'center', verticalAlign: 'middle' }
  };
}
function frame(x, y, w, h) {
  return { type: 'rect', z: 100, silent: true, shape: { x: x, y: y, width: w, height: h },
    style: { fill: 'none', stroke: '#1a1a1a', lineWidth: 2 } };
}

var legendLabels = [
  ['1.5', 'LogR', '', ''],
  ['0.75', 'LogR', '<', '1.5'],
  ['0.2', 'LogR', '<', '0.75'],
  ['-0.2', 'LogR', '<', '0.2'],
  ['-1', 'LogR', '<', '-0.2'],
  ['', 'LogR', '<', '-1']
];

var graphics = [
  frame(153, 3, 1044, 345.5),
  frame(73.5, 480, 549.5, 492),
  frame(688, 480, 547.5, 492),
  txt(11, 18, 'A', 25, { weight: 'bold' }),
  txt(11, 483, 'B', 25, { weight: 'bold' }),
  txt(765, 396, 'Chromosome 21 base pair position (in Mb)', 19.5),
  txt(365, 1025, 'Chromosome 21 base pair position (in Mb)', 19.5),
  txt(981, 1025, 'Chromosome 21 base pair position (in Mb)', 19.5),
  txt(346, 463, 'iAMP21-01', 19),
  txt(965, 463, 'iAMP21-04', 19),
  txt(21, 713, 'logR values', 20, { rotation: Math.PI / 2 })
];
starredRows.forEach(function (r) {
  graphics.push(txt(184, 35 + r * 26.8, '*', 24));
});
legendLabels.forEach(function (l, i) {
  var yTop = 213 + i * 21.7, yc = yTop + 11.5;
  graphics.push({ type: 'rect', z: 100, silent: true,
    shape: { x: 1232, y: yTop, width: 21, height: 21.7 }, style: { fill: classColors[i] } });
  if (l[0]) {
    graphics.push(txt(1271, yc, l[0], 14.5));
    graphics.push(txt(1291, yc, '<', 14.5));
    graphics.push(txt(1299, yc, l[1], 14.5, { align: 'left' }));
  } else {
    graphics.push(txt(1303, yc, l[1], 14.5, { align: 'left' }));
  }
  if (l[2]) {
    graphics.push(txt(i === 5 ? 1342 : 1338, yc, l[2], 14.5));
    graphics.push(txt(1364, yc, l[3], 14.5));
  }
});

var chart = echarts.init(document.getElementById('chart'), null, { renderer: 'canvas' });
chart.setOption({
  animation: false,
  backgroundColor: '#fff',
  textStyle: { fontFamily: FONT },
  grid: [
    { left: 153, top: 15, width: 1044, height: 321.7 },
    { left: 73.5, top: 480, width: 549.5, height: 492 },
    { left: 688, top: 480, width: 547.5, height: 492 }
  ],
  xAxis: [
    {
      gridIndex: 0, type: 'value', min: -1.94, max: 47.64, offset: 12,
      axisLine: { show: false, onZero: false },
      axisTick: { show: true, length: 11, customValues: mbTicks, lineStyle: { color: '#111', width: 1.5 } },
      axisLabel: { customValues: mbTicks, fontSize: 17.5, fontFamily: FONT, color: '#111', margin: 14 },
      splitLine: { show: false }
    },
    bx(1, -1.89, 48.89),
    bx(2, -1.76, 48.84)
  ],
  yAxis: [
    {
      gridIndex: 0, type: 'category', data: rowNames, inverse: true, boundaryGap: true,
      axisLine: { show: false, onZero: false },
      axisTick: { show: true, alignWithLabel: true, length: 11, lineStyle: { color: '#111', width: 1.5 } },
      axisLabel: { fontSize: 19.5, fontFamily: FONT, color: '#111', margin: 25, interval: 0 },
      splitLine: { show: true, interval: 0, lineStyle: { color: '#b3b3b3', width: 1.4, type: [7, 6] } }
    },
    by(1),
    by(2)
  ],
  series: [
    { type: 'custom', xAxisIndex: 0, yAxisIndex: 0, z: 2, silent: true,
      encode: { x: [0, 1], y: 2 }, renderItem: renderSeg, data: segData },
    { type: 'custom', xAxisIndex: 0, yAxisIndex: 0, z: 3, silent: true,
      encode: { x: [0, 1] }, renderItem: renderHatch, data: hatchBoxes }
  ].concat(
    panelSeries(1, [p01Left, p01Cen, p01Cen2, p01Arm, p01Arm2, p01Amp, p01Amp2, p01Tel], seg01Means, dot01Means),
    panelSeries(2, [p04Left, p04Prox, p04Prox2, p04Mid, p04Mid2, p04Amp, p04Amp2, p04Dist, p04Dist2], seg04Means, dot04Means)
  ),
  graphic: { elements: graphics }
});
</script>
</body>
</html>
